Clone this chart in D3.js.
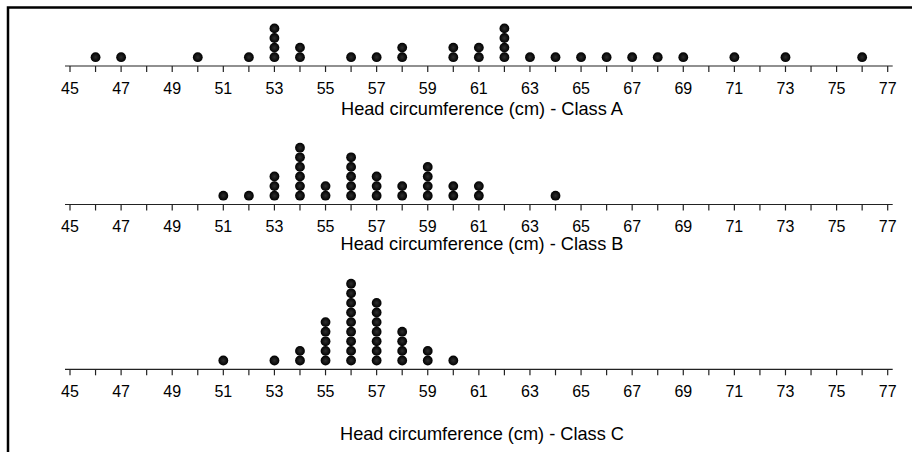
<!DOCTYPE html>
<html>
<head>
<meta charset="utf-8">
<script src="https://cdn.jsdelivr.net/npm/d3@7"></script>
<style>
  html, body { margin: 0; padding: 0; background: #fff; }
  svg { display: block; }
  text { font-family: Arial, "Liberation Sans", sans-serif; fill: #000; }
</style>
</head>
<body>
<svg id="chart" width="912" height="452"></svg>
<script>
// ---- data ----
const tickLabels = [45, 47, 49, 51, 53, 55, 57, 59, 61, 63, 65, 67, 69, 71, 73, 75, 77];
const classNames = ["Class A", "Class B", "Class C"];

const classAValues = [46, 47, 50, 52, 53, 54, 56, 57, 58, 60, 61, 62, 63, 64, 65, 66, 67, 68, 69, 71, 73, 76];
const classACounts = [1, 1, 1, 1, 4, 2, 1, 1, 2, 2, 2, 4, 1, 1, 1, 1, 1, 1, 1, 1, 1, 1];

const classBValues = [51, 52, 53, 54, 55, 56, 57, 58, 59, 60, 61, 64];
const classBCounts = [1, 1, 3, 6, 2, 5, 3, 2, 4, 2, 2, 1];

const classCValues = [51, 53, 54, 55, 56, 57, 58, 59, 60];
const classCCounts = [1, 1, 2, 5, 9, 7, 4, 2, 1];

// ---- layout ----
const svg = d3.select("#chart");
const x = d3.scaleLinear().domain([45, 77]).range([70, 887.7]);

const panels = [
  { name: classNames[0], values: classAValues, counts: classACounts, axisY: 66,    titleY: 108 },
  { name: classNames[1], values: classBValues, counts: classBCounts, axisY: 204.5, titleY: 243 },
  { name: classNames[2], values: classCValues, counts: classCCounts, axisY: 369.3, titleY: 433 }
];

// frame
svg.append("rect")
  .attr("x", 8).attr("y", 7.5)
  .attr("width", 1000).attr("height", 1000)
  .attr("fill", "none").attr("stroke", "#000").attr("stroke-width", 2.5);

// dot gradient
const defs = svg.append("defs");
const grad = defs.append("radialGradient").attr("id", "dotGrad")
  .attr("cx", "50%").attr("cy", "50%").attr("r", "50%");
grad.append("stop").attr("offset", "0%").attr("stop-color", "#2e2e2e");
grad.append("stop").attr("offset", "100%").attr("stop-color", "#000");

const dotR = 4.9, dotStep = 9.6, dotGap = 8.8;

panels.forEach(p => {
  const g = svg.append("g");

  // axis line
  g.append("line")
    .attr("x1", x(45) - 5).attr("x2", x(77) + 5)
    .attr("y1", p.axisY).attr("y2", p.axisY)
    .attr("stroke", "#222").attr("stroke-width", 1.2);

  // ticks every 1
  const ticks = d3.range(45, 78);
  g.selectAll(".tick").data(ticks).enter().append("line")
    .attr("x1", d => x(d)).attr("x2", d => x(d))
    .attr("y1", p.axisY).attr("y2", p.axisY + 6)
    .attr("stroke", "#222").attr("stroke-width", 1.2);

  // tick labels
  g.selectAll(".lbl").data(tickLabels).enter().append("text")
    .attr("x", d => x(d))
    .attr("y", p.axisY + 22)
    .attr("dy", "0.36em")
    .attr("text-anchor", "middle")
    .style("font-size", "16px")
    .text(d => d);

  // title
  g.append("text")
    .attr("x", 482).attr("y", p.titleY).attr("dy", "0.36em")
    .attr("text-anchor", "middle")
    .style("font-size", "18.2px")
    .text("Head circumference (cm) - " + p.name);

  // dots
  const dots = [];
  p.values.forEach((v, i) => {
    for (let k = 0; k < p.counts[i]; k++) dots.push({ v, k });
  });
  g.selectAll(".dot").data(dots).enter().append("circle")
    .attr("cx", d => x(d.v))
    .attr("cy", d => p.axisY - dotGap - d.k * dotStep)
    .attr("r", dotR)
    .attr("fill", "url(#dotGrad)");
});
</script>
</body>
</html>
